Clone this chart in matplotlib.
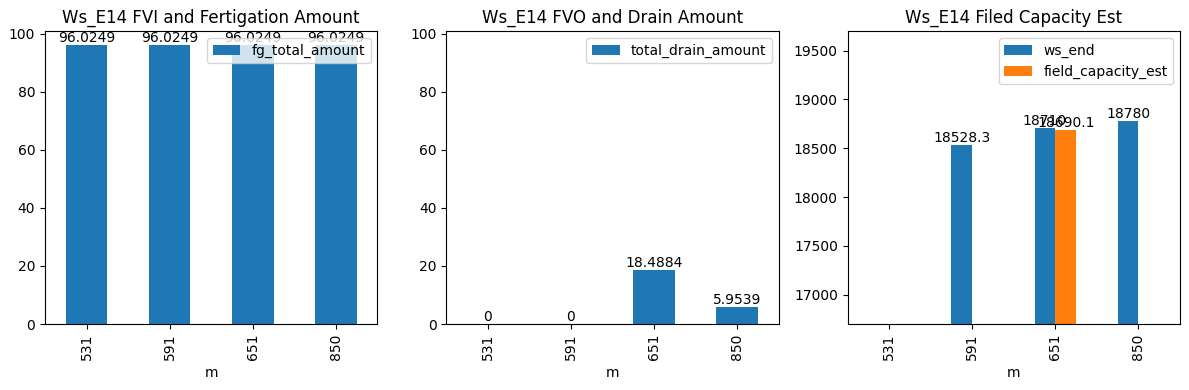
import numpy as np
import pandas as pd
import matplotlib
matplotlib.use("Agg")
import matplotlib.pyplot as plt

# months on the x axis
m = ["531", "591", "651", "850"]
fg_total_amount = [96.0249, 96.0249, 96.0249, 96.0249]
total_drain_amount = [0, 0, 18.4884, 5.9539]
ws_end = [np.nan, 18528.3, 18710, 18780]
field_capacity_est = [np.nan, np.nan, 18690.1, np.nan]

df = pd.DataFrame({
    "m": m,
    "fg_total_amount": fg_total_amount,
    "total_drain_amount": total_drain_amount,
    "ws_end": ws_end,
    "field_capacity_est": field_capacity_est,
}).set_index("m")

fig, axes = plt.subplots(1, 3, figsize=(11.89, 3.9), dpi=100)
fig.subplots_adjust(left=45/1189, right=1180/1189, top=1-31/390,
                    bottom=1-324/390, wspace=0.207)

# FVI and fertigation
ax = axes[0]
df[["fg_total_amount"]].plot.bar(ax=ax)
for c in ax.containers:
    ax.bar_label(c)
ax.set_ylim(0, 101)
ax.set_title("Ws_E14 FVI and Fertigation Amount")
ax.legend(loc="upper right")

# FVO and drain
ax = axes[1]
df[["total_drain_amount"]].plot.bar(ax=ax)
for c in ax.containers:
    ax.bar_label(c)
ax.set_ylim(0, 101)
ax.set_title("Ws_E14 FVO and Drain Amount")
ax.legend(loc="upper right")

# field capacity
ax = axes[2]
df[["ws_end", "field_capacity_est"]].plot.bar(ax=ax)
for c in ax.containers:
    ax.bar_label(c)
ax.set_ylim(16700, 19700)
ax.set_title("Ws_E14 Filed Capacity Est")
ax.legend(loc="upper right")

plt.savefig("out.png")
